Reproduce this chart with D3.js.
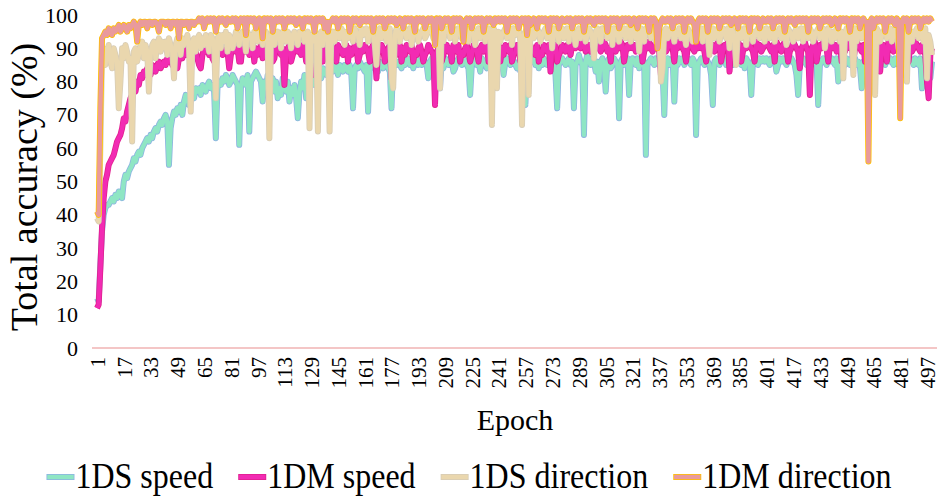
<!DOCTYPE html>
<html>
<head>
<meta charset="utf-8">
<script src="https://cdn.jsdelivr.net/npm/d3@7/dist/d3.min.js"></script>
<style>
  body { margin: 0; background: #fff; }
  svg text { font-family: "Liberation Serif", "Times New Roman", serif; fill: #000; }
</style>
</head>
<body>
<svg id="chart"></svg>
<script>
// Accuracy per epoch (%), epochs 1..500
const ds_speed = [
  15,14,25,35,40,42,43,43,44,45,44,46,45,47,46,45,50,52,51,53,
  54,55,57,56,58,59,58,60,61,62,63,62,64,63,65,66,65,67,68,67,
  69,70,68,55,66,69,71,70,72,71,73,70,74,76,75,73,76,77,75,78,
  77,78,76,79,78,77,79,80,78,79,77,63,78,80,79,81,80,82,81,79,
  80,82,81,80,79,61,78,81,80,79,82,65,80,81,82,83,82,81,80,74,
  80,78,82,76,79,81,77,80,75,78,76,81,79,77,80,74,78,76,79,75,
  69,77,80,78,82,75,81,83,80,82,79,84,83,82,81,84,83,82,84,83,
  84,83,85,84,82,85,84,83,85,84,83,85,82,72,84,85,84,86,85,84,
  83,85,71,84,85,86,84,85,83,86,85,84,86,85,84,83,72,85,86,85,
  86,85,84,86,85,86,87,85,86,84,86,87,85,86,85,87,86,85,81,86,
  87,86,85,86,87,78,86,84,87,86,85,87,86,83,84,86,87,86,85,87,
  86,85,84,76,85,86,87,85,86,83,87,86,85,84,86,87,86,85,87,86,
  85,87,86,82,86,87,86,85,87,86,85,84,86,83,87,86,73,85,86,87,
  86,87,85,86,84,86,85,87,86,85,86,87,86,85,82,72,85,86,87,86,
  85,86,87,85,86,72,85,86,88,86,85,64,86,88,86,85,87,86,83,86,
  80,86,87,85,77,86,87,84,85,87,86,85,69,86,87,85,86,87,76,86,
  87,86,85,87,84,87,85,86,58,85,86,87,86,85,87,86,85,86,83,70,
  86,87,85,86,87,74,86,85,87,86,87,85,86,87,86,85,87,86,64,85,
  86,87,86,85,87,86,85,82,73,86,87,86,85,87,86,87,85,86,87,86,
  85,87,86,87,86,85,87,84,87,86,85,76,86,87,86,85,87,86,87,86,
  87,86,85,87,86,87,83,85,87,86,87,86,85,87,86,87,86,85,82,76,
  85,86,87,86,85,87,86,85,86,87,86,73,85,86,87,86,85,87,86,87,
  86,85,87,80,86,87,86,85,87,86,85,87,86,87,85,86,84,78,86,85,
  87,86,85,87,86,87,86,85,86,87,86,85,87,86,87,86,85,87,86,85,
  86,87,86,85,87,86,87,86,85,87,86,85,87,78,86,87,86,85,81,86
];
const dm_speed = [
  12,13,24,36,45,50,52,55,56,57,58,60,62,63,64,66,69,68,71,73,
  75,76,78,77,80,79,82,81,83,82,84,83,82,85,84,83,85,86,84,85,
  86,85,87,86,87,85,88,86,84,87,88,87,89,88,90,89,91,90,88,89,
  87,85,84,88,90,89,91,88,90,87,86,89,90,91,89,88,91,90,89,84,
  88,90,91,89,90,86,86,91,90,89,92,88,90,91,86,90,88,89,91,87,
  90,89,91,88,90,86,87,91,90,89,88,90,79,88,90,91,86,88,90,91,
  89,90,88,91,90,86,91,90,88,89,82,90,91,89,90,86,91,90,89,90,
  91,89,90,86,91,90,89,88,90,91,86,90,88,89,91,90,86,88,90,89,
  91,90,89,86,90,91,89,81,90,89,91,90,86,89,90,91,81,89,90,88,
  90,91,86,90,88,91,90,89,91,86,89,88,90,91,89,86,88,89,91,90,
  89,88,73,89,90,91,86,88,90,91,89,90,86,91,90,89,91,86,89,88,
  90,91,89,86,88,91,90,89,86,90,91,89,90,91,86,89,90,91,89,90,
  91,86,90,88,91,90,89,91,86,88,89,91,90,86,88,90,91,89,86,91,
  89,90,88,91,86,89,88,91,90,89,91,83,90,89,91,86,88,89,91,90,
  89,91,90,88,91,92,90,93,91,90,92,91,89,90,91,89,90,92,91,90,
  91,89,90,92,91,89,90,86,92,90,89,91,90,92,91,86,89,91,90,92,
  90,91,89,90,92,91,86,89,91,90,92,90,89,91,90,91,89,82,90,91,
  89,90,92,91,90,86,91,90,92,91,90,89,86,90,92,91,90,89,91,90,
  92,90,91,89,86,91,92,90,91,89,90,92,91,86,89,91,90,92,83,90,
  91,89,90,92,91,86,89,91,90,92,91,90,89,86,92,90,91,89,90,91,
  92,91,90,89,91,86,92,91,90,89,91,92,90,86,89,90,92,91,90,89,
  84,90,91,92,90,89,76,90,91,92,86,89,91,90,92,91,90,86,91,92,
  90,91,89,90,92,86,90,89,91,92,90,91,86,90,92,91,90,89,91,86,
  92,91,90,89,91,90,92,91,83,90,91,89,86,92,91,90,89,91,90,92,
  91,90,89,91,92,86,91,89,90,92,91,90,89,91,90,88,80,75,88,90
];
const ds_direction = [
  39,38,60,88,90,85,89,91,86,84,90,88,86,72,80,90,87,91,89,86,
  87,62,89,90,86,88,91,92,87,91,89,77,88,91,92,87,91,93,89,92,
  90,92,88,93,91,89,81,91,93,90,88,93,91,92,94,90,71,92,93,89,
  93,94,90,93,91,94,92,89,94,93,91,75,93,94,90,94,92,95,89,94,
  93,90,92,95,94,91,94,95,93,89,95,93,94,90,95,94,92,95,94,91,
  94,95,92,63,94,95,91,93,95,94,90,95,94,92,95,94,90,94,95,93,
  91,95,94,95,92,94,95,66,94,92,95,94,65,94,95,91,94,95,93,65,
  94,95,92,94,96,93,96,95,91,95,93,96,95,92,96,95,94,91,96,94,
  95,96,92,95,96,94,91,85,95,96,93,95,96,92,94,96,81,78,94,96,
  95,92,94,95,96,93,94,96,91,94,96,95,92,94,95,96,93,94,96,95,
  96,93,94,96,95,78,95,92,96,95,96,93,95,96,92,94,96,95,93,95,
  94,96,92,96,95,94,91,95,96,93,95,96,92,94,96,95,67,96,95,78,
  95,92,94,95,96,93,94,96,91,96,94,95,96,92,67,94,95,96,76,95,
  96,93,94,96,95,92,94,95,96,93,94,96,90,96,95,94,92,95,96,93,
  94,96,92,96,95,94,91,95,96,93,95,96,92,94,96,95,93,87,95,96,
  95,92,96,95,96,93,94,96,91,96,94,95,92,95,94,96,93,96,95,92,
  96,95,93,96,89,96,95,92,96,95,96,93,95,96,92,94,96,80,84,95,
  96,93,94,96,95,92,95,94,96,93,96,94,91,96,95,94,92,95,96,93,
  94,96,92,96,95,93,88,95,96,93,95,96,92,94,96,95,93,96,90,96,
  95,92,85,95,96,93,94,96,91,96,94,95,92,95,94,96,93,96,95,92,
  96,95,93,96,95,92,95,94,96,93,96,94,91,96,95,94,92,95,96,93,
  94,96,92,96,95,93,96,95,92,94,95,96,93,94,96,90,94,96,95,92,
  95,93,96,95,92,95,81,94,96,93,96,94,82,96,92,94,96,93,96,95,
  94,92,95,96,93,76,96,95,92,94,95,96,93,94,96,92,94,96,95,90,
  95,82,96,93,80,96,95,92,95,94,96,93,96,94,92,96,81,94,92,88
];
const dm_direction = [
  41,40,72,93,94,95,94,96,95,94,96,95,96,97,95,96,97,96,95,97,
  96,97,98,97,92,97,98,97,98,98,96,98,98,97,98,98,97,95,98,98,
  98,97,98,98,96,98,98,97,98,93,98,98,97,98,98,96,98,98,97,98,
  98,99,98,99,96,98,99,98,99,98,99,95,98,99,98,99,98,97,99,98,
  98,99,98,99,96,98,99,98,99,94,99,98,99,98,99,96,98,99,98,93,
  99,98,99,98,99,95,98,99,98,99,98,99,96,98,99,98,99,98,99,97,
  98,99,98,96,99,98,99,98,99,98,95,99,98,99,98,99,96,98,95,98,
  98,99,98,99,96,98,99,98,99,98,99,95,98,99,98,99,98,97,99,98,
  99,98,99,98,99,95,98,99,98,99,98,99,96,98,99,98,99,98,99,97,
  98,99,98,96,99,98,99,98,99,98,95,99,98,99,98,99,96,98,99,98,
  99,98,91,99,98,99,96,98,99,98,99,98,95,99,98,99,98,99,98,92,
  98,99,98,99,96,98,99,98,99,98,99,95,98,99,98,99,98,97,99,98,
  99,98,99,98,99,95,98,99,98,99,98,99,96,98,99,98,99,94,99,97,
  98,99,98,96,99,98,99,98,99,98,95,99,98,99,98,99,96,98,99,98,
  98,99,98,99,96,98,99,98,99,98,99,95,98,99,98,99,98,97,99,98,
  99,98,99,98,99,95,98,99,98,99,98,99,96,98,99,98,99,98,99,97,
  98,99,98,96,99,98,99,98,99,98,95,99,98,99,98,90,96,98,99,98,
  98,99,98,99,96,98,99,98,99,98,99,95,98,99,98,99,98,97,92,98,
  99,98,99,98,99,95,98,99,98,99,98,99,96,98,99,98,99,98,99,97,
  98,99,98,96,99,98,99,98,99,98,95,99,98,99,98,99,96,98,99,98,
  98,99,98,99,96,98,99,98,99,98,99,95,98,99,98,99,98,97,99,98,
  99,98,99,98,99,95,98,99,98,99,98,99,96,98,99,98,99,98,99,97,
  98,99,98,96,99,98,99,98,99,98,95,99,98,99,98,99,96,98,99,98,
  98,56,98,99,96,98,99,98,99,98,99,95,98,99,98,99,98,97,99,98,
  69,98,99,98,99,95,98,99,98,99,98,99,96,98,99,98,99,98,99,98
];

const seriesNames = ["1DS speed", "1DM speed", "1DS direction", "1DM direction"];
const seriesValues = [ds_speed, dm_speed, ds_direction, dm_direction];
const xTickLabels = [1,17,33,49,65,81,97,113,129,145,161,177,193,209,225,241,
  257,273,289,305,321,337,353,369,385,401,417,433,449,465,481,497];
const yTickLabels = [0,10,20,30,40,50,60,70,80,90,100];

// colours: inner line and its thin border
const fillColors = ["#8fe6c4", "#f22bb3", "#ead7ae", "#e99a9c"];
const edgeColors = ["#8db3e2", "#e0208f", "#d8cdb6", "#ffc000"];

const width = 939, height = 499;
const serif = '"Liberation Serif", "Times New Roman", serif';

const svg = d3.select("#chart")
  .attr("width", width)
  .attr("height", height);

const x = d3.scaleLinear().domain([1, 500]).range([97, 932]);
const y = d3.scaleLinear().domain([0, 100]).range([348, 15]);

// Y axis (labels only)
const yAxis = svg.append("g")
  .attr("transform", "translate(97,0)")
  .call(d3.axisLeft(y).tickValues(yTickLabels).tickSize(0).tickPadding(19));
yAxis.select(".domain").remove();
yAxis.selectAll("text")
  .style("font-family", serif)
  .attr("font-size", "22px")
  .attr("fill", "#000");

// X axis (rotated labels)
const xAxis = svg.append("g")
  .attr("transform", "translate(0,348)")
  .call(d3.axisBottom(x).tickValues(xTickLabels).tickSize(0));
xAxis.select(".domain").remove();
xAxis.selectAll("text")
  .style("font-family", serif)
  .attr("font-size", "21px")
  .attr("fill", "#000")
  .attr("transform", "rotate(-90)")
  .attr("x", -9)
  .attr("y", 0)
  .attr("dy", "0.35em")
  .style("text-anchor", "end");

// zero line
svg.append("line")
  .attr("x1", 92).attr("x2", 937)
  .attr("y1", y(0)).attr("y2", y(0))
  .attr("stroke", "#f0b3b3")
  .attr("stroke-width", 1.4);

// series lines, each with a thin border
const line = d3.line()
  .x((d, i) => x(i + 1))
  .y(d => y(d));

seriesValues.forEach((vals, k) => {
  const g = svg.append("g").attr("class", "series");
  g.append("path")
    .attr("d", line(vals))
    .attr("fill", "none")
    .attr("stroke", edgeColors[k])
    .attr("stroke-width", 6)
    .attr("stroke-linejoin", "round");
  g.append("path")
    .attr("d", line(vals))
    .attr("fill", "none")
    .attr("stroke", fillColors[k])
    .attr("stroke-width", 4.4)
    .attr("stroke-linejoin", "round");
});

// axis titles
svg.append("text")
  .attr("transform", "translate(37,187) rotate(-90)")
  .attr("text-anchor", "middle")
  .attr("font-size", "38px")
  .text("Total accuracy (%)");

svg.append("text")
  .attr("x", 515)
  .attr("y", 430)
  .attr("text-anchor", "middle")
  .attr("font-size", "30px")
  .text("Epoch");

// legend
const legend = svg.append("g").attr("class", "legend");
const items = legend.selectAll("g")
  .data(seriesNames)
  .enter().append("g");

items.append("line")
  .attr("x1", 0).attr("x2", 28)
  .attr("y1", 0).attr("y2", 0)
  .attr("stroke", (d, i) => edgeColors[i])
  .attr("stroke-width", 6);
items.append("line")
  .attr("x1", 0.8).attr("x2", 27.2)
  .attr("y1", 0).attr("y2", 0)
  .attr("stroke", (d, i) => fillColors[i])
  .attr("stroke-width", 4.4);
items.append("text")
  .attr("x", 29)
  .attr("y", 10)
  .attr("font-size", "32px")
  .attr("transform", "scale(1,1.12)")
  .text(d => d);

// place legend items in a row, centred under the plot
let widths = [];
items.each(function () {
  widths.push(29 + this.querySelector("text").getComputedTextLength());
});
const gap = 25;
const total = d3.sum(widths) + gap * (widths.length - 1);
let cx = 469 - total / 2;
items.attr("transform", (d, i) => {
  const t = `translate(${cx},477)`;
  cx += widths[i] + gap;
  return t;
});
</script>
</body>
</html>
